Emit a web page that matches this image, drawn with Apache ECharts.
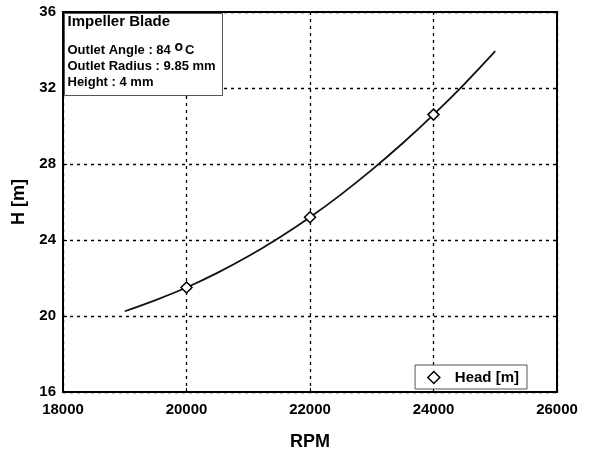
<!DOCTYPE html>
<html>
<head>
<meta charset="utf-8">
<script src="https://cdn.jsdelivr.net/npm/echarts@6/dist/echarts.min.js"></script>
<style>
  html, body { margin: 0; padding: 0; background: #fff; }
  #chart { width: 589px; height: 455px; }
</style>
</head>
<body>
<div id="chart"></div>
<script>
// Head vs. rotor speed for the impeller blade
const rpmCurve = [19000, 19500, 20000, 20500, 21000, 21500, 22000, 22500, 23000, 23500, 24000, 24500, 25000];
const headCurve = [20.25, 20.84, 21.5, 22.27, 23.14, 24.12, 25.2, 26.39, 27.69, 29.09, 30.6, 32.21, 33.94];
const rpmPoints = [20000, 22000, 24000];
const headPoints = [21.5, 25.2, 30.6];
const xTicks = [18000, 20000, 22000, 24000, 26000];
const yTicks = [16, 20, 24, 28, 32, 36];

const font = '"Liberation Sans", Arial, sans-serif';
const chart = echarts.init(document.getElementById('chart'));

const gridLine = { show: true, lineStyle: { color: '#000', type: [3, 4], width: 1.3 } };

chart.setOption({
  animation: false,
  backgroundColor: '#fff',
  grid: { left: 63, right: 32, top: 12, bottom: 63, show: true, borderColor: '#000', borderWidth: 2,
    containLabel: false, outerBoundsMode: 'none' },
  xAxis: {
    type: 'value', min: xTicks[0], max: xTicks[xTicks.length - 1], interval: 2000,
    name: 'RPM', nameLocation: 'middle', nameGap: 41,
    nameTextStyle: { fontFamily: font, fontWeight: 'bold', fontSize: 18, color: '#000' },
    axisLine: { show: true, lineStyle: { color: '#000', width: 2 } },
    axisTick: { show: true, inside: true, length: 4, lineStyle: { color: '#000' } },
    axisLabel: { fontFamily: font, fontWeight: 'bold', fontSize: 15, color: '#000', margin: 10,
      formatter: v => String(v) },
    splitLine: gridLine
  },
  yAxis: {
    type: 'value', min: yTicks[0], max: yTicks[yTicks.length - 1], interval: 4,
    name: 'H [m]', nameLocation: 'middle', nameGap: 28, nameRotate: 90,
    nameTextStyle: { fontFamily: font, fontWeight: 'bold', fontSize: 18, color: '#000' },
    axisLine: { show: true, lineStyle: { color: '#000', width: 2 } },
    axisTick: { show: true, inside: true, length: 4, lineStyle: { color: '#000' } },
    axisLabel: { fontFamily: font, fontWeight: 'bold', fontSize: 15, color: '#000', margin: 7 },
    splitLine: gridLine
  },
  legend: {
    show: true, right: 62, bottom: 66,
    backgroundColor: '#fff', borderColor: '#555', borderWidth: 1, padding: [5, 8, 4, 12],
    itemWidth: 12, itemHeight: 12,
    textStyle: { fontFamily: font, fontWeight: 'bold', fontSize: 15, color: '#000', padding: [0, 0, 0, 10] },
    data: [{ name: 'Head [m]', icon: 'diamond', itemStyle: { color: '#fff', borderColor: '#000', borderWidth: 1.5 } }]
  },
  graphic: [{
    type: 'group', left: 64, top: 13, z: 100,
    children: [
      { type: 'rect', z: 100, shape: { x: 0, y: 0, width: 158, height: 82 },
        style: { fill: '#fff', stroke: '#555', lineWidth: 1 } },
      { type: 'text', z: 101, left: 3, top: 1,
        style: {
          text: '{t|Impeller Blade}\n{s|Outlet Angle : 84 }{sup|o}{s|C}\n{s|Outlet Radius : 9.85 mm}\n{s|Height : 4 mm}',
          fill: '#000',
          rich: {
            t: { fontFamily: font, fontWeight: 'bold', fontSize: 15, lineHeight: 26, verticalAlign: 'top' },
            s: { fontFamily: font, fontWeight: 'bold', fontSize: 13, lineHeight: 16, verticalAlign: 'bottom' },
            sup: { fontFamily: font, fontWeight: 'bold', fontSize: 14, lineHeight: 16, verticalAlign: 'top', padding: [0, 2, 8, 0] }
          }
        } }
    ]
  }],
  series: [
    {
      name: 'curve', type: 'line', smooth: 0.3, symbol: 'none',
      data: rpmCurve.map((r, i) => [r, headCurve[i]]),
      lineStyle: { color: '#111', width: 1.8 }, z: 3
    },
    {
      name: 'Head [m]', type: 'scatter', symbol: 'diamond', symbolSize: 11,
      data: rpmPoints.map((r, i) => [r, headPoints[i]]),
      itemStyle: { color: '#fff', borderColor: '#000', borderWidth: 1.5, opacity: 1 }, z: 4
    }
  ]
});
</script>
</body>
</html>
